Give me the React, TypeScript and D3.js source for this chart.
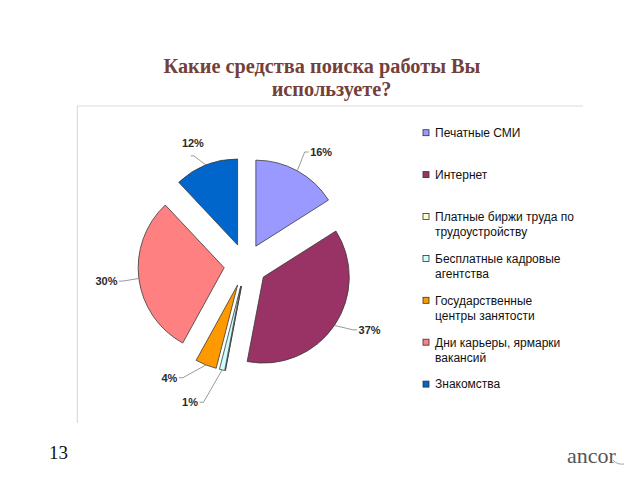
import React from "react";
import * as d3 from "d3";

const titleLines = ["Какие средства поиска работы Вы", "используете?"];
const categories = [
  "Печатные СМИ",
  "Интернет",
  "Платные биржи труда по\nтрудоустройству",
  "Бесплатные кадровые\nагентства",
  "Государственные\nцентры занятости",
  "Дни карьеры, ярмарки\nвакансий",
  "Знакомства",
];
const values = [16, 37, 0, 1, 4, 30, 12];
const colors = ["#9999FF", "#993366", "#FFFFCC", "#CCFFFF", "#FF9900", "#FF8080", "#0066CC"];
const pageNumber = "13";
const brand = "ancor";

// layout tweaks for label placement (degrees, radius delta)
const labelNudge: [number, number][] = [
  [5, -2],
  [-6.6, 2],
  [0, 0],
  [9.4, 10],
  [12.4, -2],
  [0.6, 2],
  [-1.7, -5],
];

const W = 640;
const H = 480;
const cx = 245.5;
const cy = 265;
const R = 86;
const EXPLODE = 21.5;
const LABEL_R = 138;

function polar(a: number, rad: number): [number, number] {
  return [Math.sin(a) * rad, -Math.cos(a) * rad];
}

export default function App() {
  const pie = d3
    .pie<number>()
    .sort(null)
    .value((d) => d)
    .startAngle(0)
    .endAngle(2 * Math.PI);
  const arcs = pie(values);
  const arcGen = d3.arc<d3.PieArcDatum<number>>().innerRadius(0).outerRadius(R);

  const legendX = 423;
  const legendY0 = 132.7;
  const legendStep = 41.9;

  return (
    <svg
      width={W}
      height={H}
      style={{ position: "absolute", left: 0, top: 0, background: "#fff" }}
    >
      <rect x={0} y={0} width={W} height={H} fill="#fff" />
      {/* Title */}
      <g fontFamily="'Liberation Serif', 'Times New Roman', serif" fontWeight="bold" fontSize={20.3} fill="#74403a">
        <text x={322} y={72.5} textAnchor="middle">{titleLines[0]}</text>
        <text x={331.5} y={95.5} textAnchor="middle">{titleLines[1]}</text>
      </g>

      {/* Plot area border (top & left) */}
      <path d="M77.3,423 L77.3,106 L583,106" fill="none" stroke="#dcdcdc" strokeWidth={1.2} />

      {/* Pie */}
      {arcs.map((a, i) => {
        const mid = (a.startAngle + a.endAngle) / 2;
        const [ox, oy] = polar(mid, EXPLODE);
        return (
          <path
            key={"s" + i}
            d={arcGen(a) || ""}
            transform={`translate(${cx + ox},${cy + oy})`}
            fill={colors[i]}
            stroke="#3a3a3a"
            strokeWidth={0.8}
            strokeLinejoin="round"
          />
        );
      })}

      {/* Labels with leader lines */}
      {arcs.map((a, i) => {
        if (values[i] === 0) return null;
        const mid = (a.startAngle + a.endAngle) / 2;
        const [ox, oy] = polar(mid, EXPLODE);
        const [sx0, sy0] = polar(mid, R);
        const sx = cx + ox + sx0;
        const sy = cy + oy + sy0;
        const la = mid + (labelNudge[i][0] * Math.PI) / 180;
        const [lx0, ly0] = polar(la, LABEL_R + labelNudge[i][1]);
        const lx = cx + lx0;
        const ly = cy + ly0;
        const txt = `${values[i]}%`;
        const w = (txt.length - 1) * 6.12 + 9.78;
        const dx = lx - sx;
        let pts: [number, number][];
        if (Math.abs(dx) > 20) {
          const s = Math.sign(dx);
          const edge = lx - s * (w / 2 + 1.5);
          pts = [
            [sx, sy],
            [edge - s * 4, ly],
            [edge, ly],
          ];
        } else {
          pts = [
            [sx, sy],
            [lx + 1, ly + 13],
            [lx - 2, ly + 13],
          ];
        }
        return (
          <g key={"l" + i}>
            <polyline
              points={pts.map((p) => p.join(",")).join(" ")}
              fill="none"
              stroke="#808080"
              strokeWidth={0.8}
            />
            <text
              x={lx}
              y={ly}
              dy="0.36em"
              textAnchor="middle"
              fontFamily="'Liberation Sans', Arial, sans-serif"
              fontWeight="bold"
              fontSize={11}
              fill="#2a2a2a"
            >
              {txt}
            </text>
          </g>
        );
      })}

      {/* Legend */}
      <g fontFamily="'Liberation Sans', Arial, sans-serif" fontSize={12} fill="#111">
        {categories.map((c, i) => {
          const y = legendY0 + i * legendStep;
          const lines = c.split("\n");
          return (
            <g key={"lg" + i}>
              <rect
                x={legendX}
                y={y - 3}
                width={6}
                height={6}
                fill={colors[i]}
                stroke="#333"
                strokeWidth={0.8}
              />
              {lines.map((ln, j) => (
                <text key={j} x={legendX + 12} y={y + j * 15} dy="0.36em">
                  {ln}
                </text>
              ))}
            </g>
          );
        })}
      </g>

      {/* Footer */}
      <text
        x={49}
        y={458.5}
        fontFamily="'Liberation Serif', 'Times New Roman', serif"
        fontSize={19}
        fill="#111"
      >
        {pageNumber}
      </text>
      <text
        x={567}
        y={463}
        fontFamily="'Liberation Serif', 'Times New Roman', serif"
        fontSize={22}
        fill="#555"
      >
        {brand}
      </text>
      <path d="M613,460 Q617,465 624,464" fill="none" stroke="#999" strokeWidth={0.9} />
    </svg>
  );
}
